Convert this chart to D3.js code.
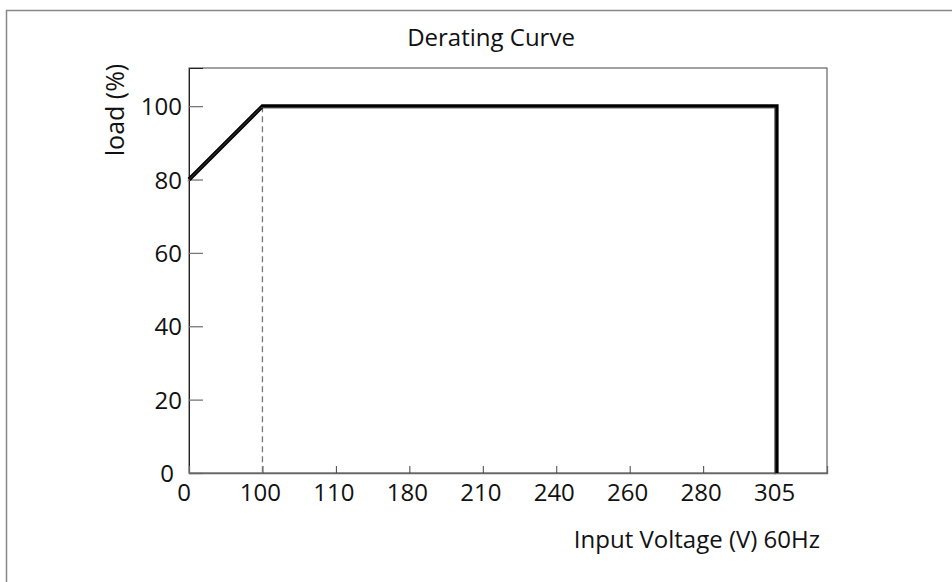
<!DOCTYPE html>
<html>
<head>
<meta charset="utf-8">
<script src="https://d3js.org/d3.v7.min.js"></script>
<style>
    body {margin: 0; background: #fff;}
    text {font-family: "Open Sans", sans-serif; fill: #111;}
</style>
</head>
<body>
<div id="chart"></div>
<script>
    // x axis is categorical: labels sit at equal spacing
    var x_labels = ["0", "100", "110", "180", "210", "240", "260", "280", "305"];
    var y_ticks = [0, 20, 40, 60, 80, 100];
    var curve_volts = ["0", "100", "305", "305"];
    var curve_load = [80, 100, 100, 0];
    var guide_volt = "100";

    var W = 952, H = 582;
    var plot = {left: 189, right: 827, top: 68, bottom: 473};

    var svg = d3.select("#chart").append("svg")
        .attr("width", W)
        .attr("height", H);

    // outer frame
    svg.append("rect")
        .attr("x", 6.5).attr("y", 10.5)
        .attr("width", W).attr("height", H)
        .attr("fill", "none")
        .attr("stroke", "#888")
        .attr("stroke-width", 1.5);

    var step = 73.45;
    var x_index = d3.scaleLinear()
        .domain([0, (plot.right - plot.left) / step])
        .range([plot.left, plot.right]);
    function x_scale(label) { return x_index(x_labels.indexOf(label)); }

    var y_scale = d3.scaleLinear()
        .domain([0, 110.4])
        .range([plot.bottom, plot.top]);

    // plot border
    svg.append("rect")
        .attr("x", plot.left).attr("y", plot.top)
        .attr("width", plot.right - plot.left)
        .attr("height", plot.bottom - plot.top)
        .attr("fill", "none")
        .attr("stroke", "#444")
        .attr("stroke-width", 1);

    // y axis ticks point inward
    var y_axis = svg.append("g")
        .attr("transform", "translate(" + plot.left + ",0)")
        .call(d3.axisRight(y_scale).tickValues(y_ticks).tickSize(14).tickFormat(""));
    y_axis.select(".domain").attr("stroke", "#222");
    y_axis.selectAll(".tick line").attr("stroke", "#777").attr("stroke-width", 1.3);

    svg.append("g").selectAll("text")
        .data(y_ticks)
        .enter().append("text")
        .attr("x", function(d){ return d === 0 ? 174 : 182; })
        .attr("y", function(d){ return y_scale(d) + 9; })
        .attr("text-anchor", "end")
        .attr("font-size", "24px")
        .text(function(d){ return d; });

    // x axis ticks point up
    var x_axis = svg.append("g")
        .attr("transform", "translate(0," + plot.bottom + ")")
        .call(d3.axisTop(x_index).tickValues(d3.range(1, x_labels.length)).tickSize(7).tickFormat(""));
    x_axis.select(".domain").attr("stroke", "#666").attr("stroke-width", 1.3);
    x_axis.selectAll(".tick line").attr("stroke", "#444");

    svg.append("g").selectAll("text")
        .data(x_labels)
        .enter().append("text")
        .attr("x", function(d, i){ return i === 0 ? x_index(i) - 5 : x_index(i) - 2; })
        .attr("y", 501)
        .attr("text-anchor", "middle")
        .attr("font-size", "24px")
        .text(function(d){ return d; });

    // dashed guide
    svg.append("line")
        .attr("x1", x_scale(guide_volt)).attr("x2", x_scale(guide_volt))
        .attr("y1", y_scale(100)).attr("y2", y_scale(0))
        .attr("stroke", "#777")
        .attr("stroke-width", 1.3)
        .attr("stroke-dasharray", "6,4");

    // derating curve
    var curve = curve_volts.map(function(v, i){ return [v, curve_load[i]]; });
    var line = d3.line()
        .x(function(d){ return x_scale(d[0]); })
        .y(function(d){ return y_scale(d[1]); });
    svg.append("path")
        .datum(curve)
        .attr("fill", "none")
        .attr("stroke", "#000")
        .attr("stroke-width", 4)
        .attr("stroke-linejoin", "miter")
        .attr("d", line);
    svg.append("path")
        .datum(curve)
        .attr("fill", "none")
        .attr("stroke", "#555")
        .attr("stroke-width", 0.8)
        .attr("transform", "translate(-1.5,1.5)")
        .attr("d", line);

    // titles
    svg.append("text")
        .attr("x", 491).attr("y", 46)
        .attr("text-anchor", "middle")
        .attr("font-size", "24px")
        .text("Derating Curve");

    svg.append("text")
        .attr("transform", "translate(124,110) rotate(-90)")
        .attr("text-anchor", "middle")
        .attr("font-size", "25px")
        .text("load (%)");

    svg.append("text")
        .attr("x", 820).attr("y", 548)
        .attr("text-anchor", "end")
        .attr("font-size", "24px")
        .text("Input Voltage (V) 60Hz");
</script>
</body>
</html>
